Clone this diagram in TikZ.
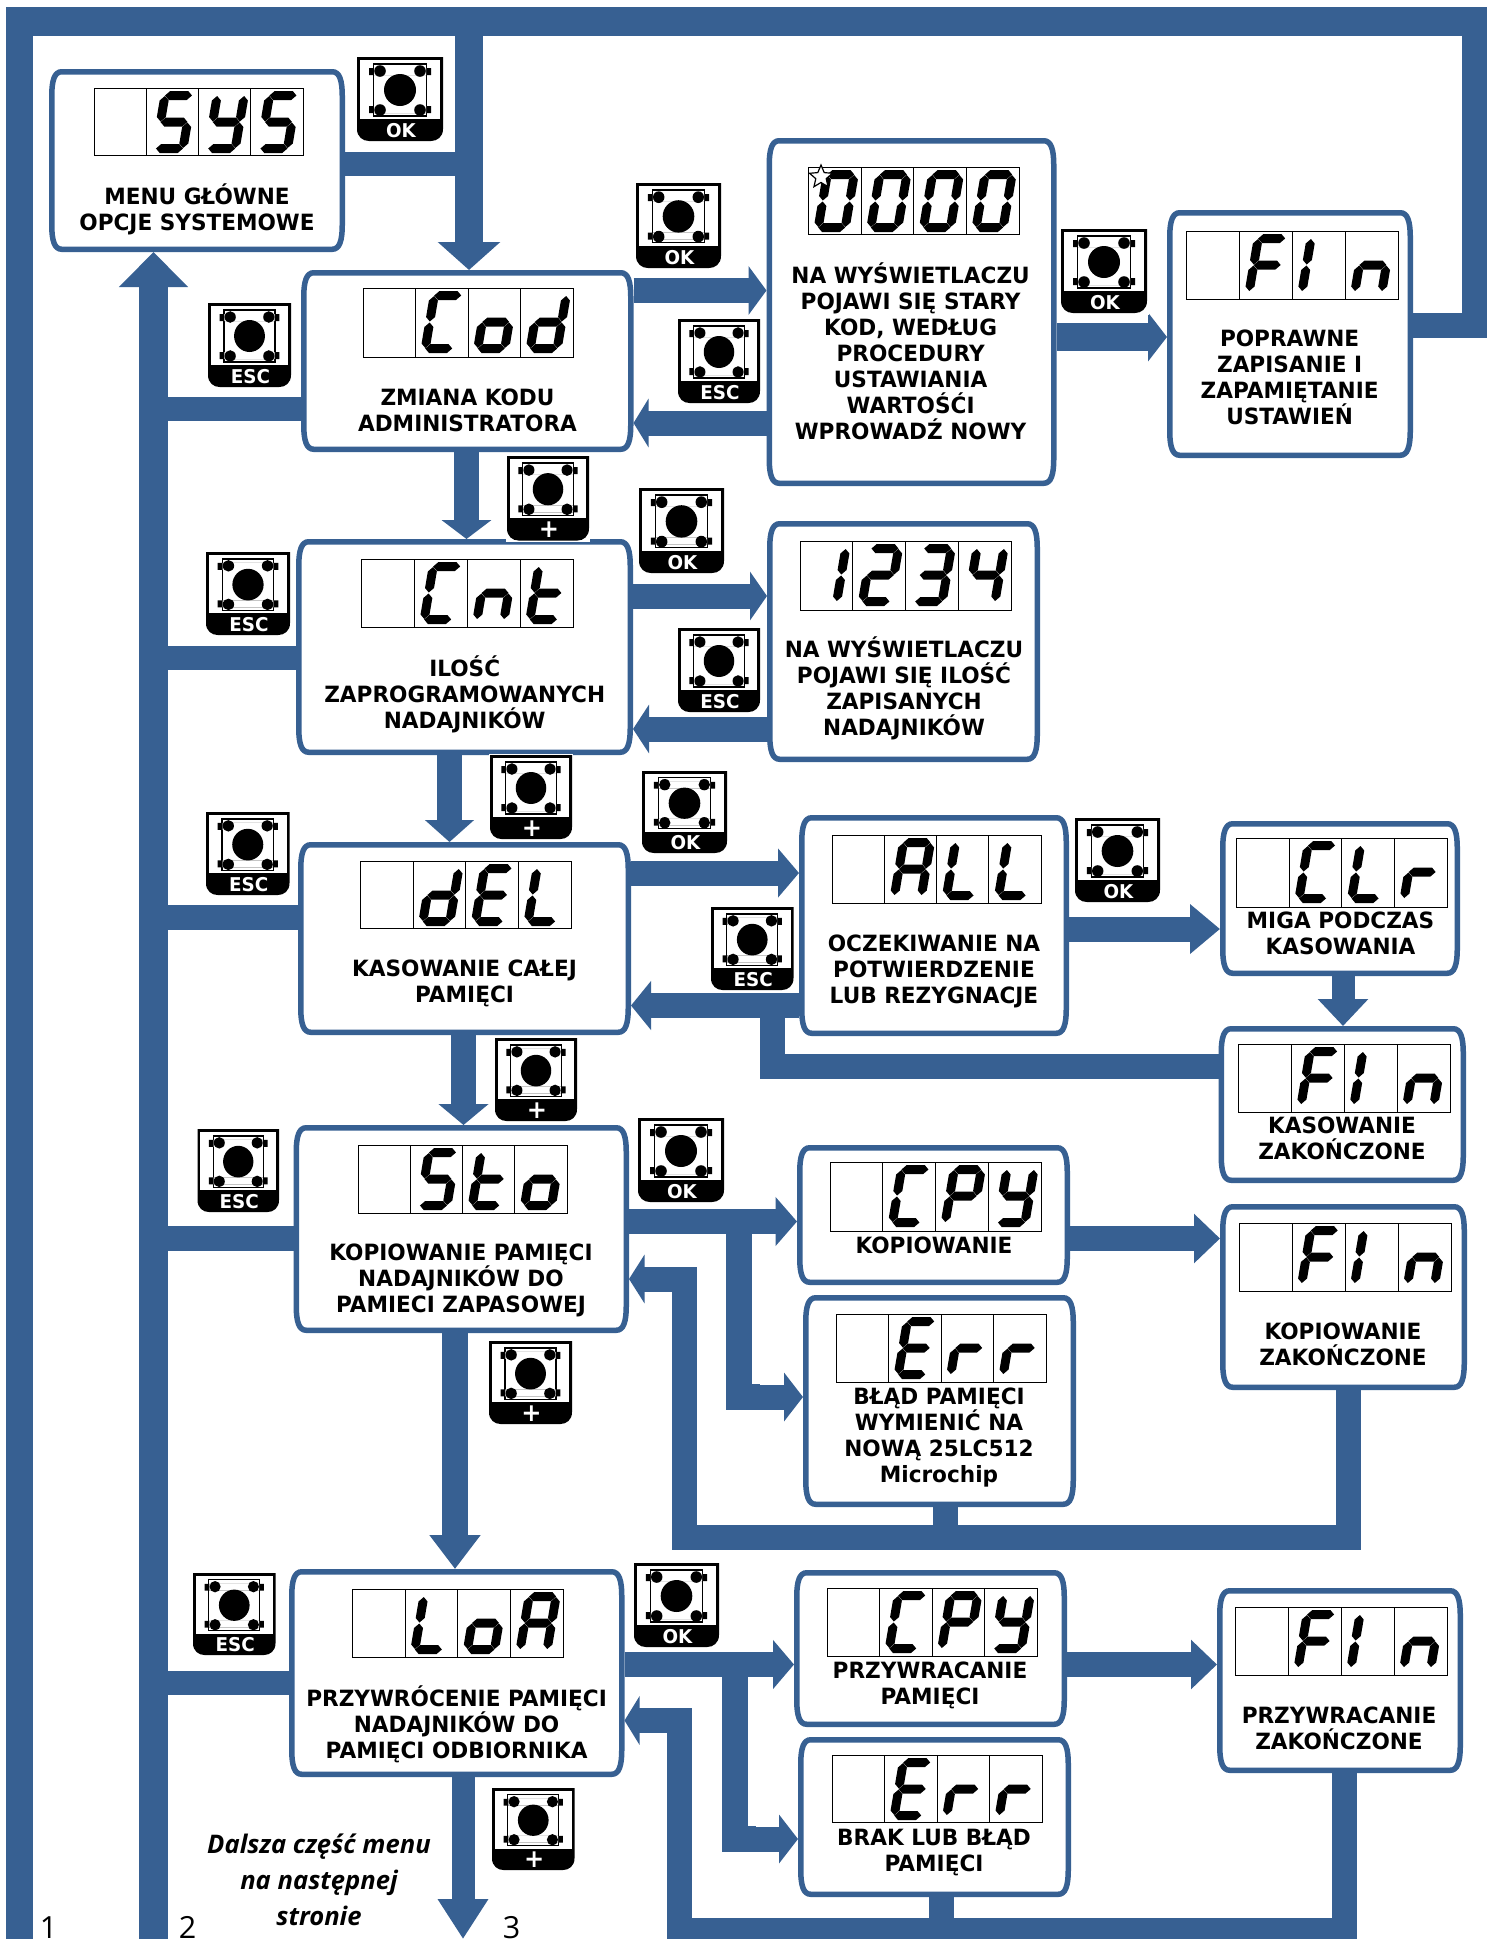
\documentclass[tikz,border=0pt]{standalone}
\usepackage{fontspec}
\setmainfont{DejaVu Sans}[FakeStretch=0.965]
\newfontfamily\noteFont{Open Sans}
\usetikzlibrary{arrows.meta,shapes.geometric,calc}
\definecolor{flowc}{HTML}{376092}
\tikzset{
  flow/.style={draw=flowc,line width=#1pt,line join=miter},
  arr/.style 2 args={-{Triangle[length=#1pt,width=#2pt]}},
  boxn/.style={inner sep=0pt,outer sep=0pt},
  boxline/.style={draw=flowc,fill=white,line width=5.5pt},
  cellline/.style={draw=black,line width=0.9pt},
  lbl/.style={inner sep=0pt,outer sep=0pt,align=center,text=black,font=\bfseries\fontsize{22.4}{26}\selectfont},
  btnl/.style={inner sep=0pt,text=white,font=\bfseries\fontsize{19}{20}\selectfont},
  btnp/.style={inner sep=0pt,text=white,font=\bfseries\fontsize{25}{26}\selectfont},
  note/.style={inner sep=0pt,align=center,font=\noteFont\bfseries\itshape\fontsize{25.6}{36}\selectfont},
  idx/.style={inner sep=0pt,anchor=base,font=\noteFont\fontsize{30.5}{31}\selectfont}
}
% seven segment parts
\newcommand\hseg[1]{\fill (4.5,#1) -- (9,#1-4.5) -- (27,#1-4.5) -- (31.5,#1) -- (27,#1+4.5) -- (9,#1+4.5) -- cycle;}
\newcommand\vseg[3]{\fill (#1,#2) -- (#1+4.5,#2+4.5) -- (#1+4.5,#3-4.5) -- (#1,#3) -- (#1-4.5,#3-4.5) -- (#1-4.5,#2+4.5) -- cycle;}
\newcommand\SgA{\hseg{4.5}}
\newcommand\SgG{\hseg{31}}
\newcommand\SgD{\hseg{57.5}}
\newcommand\SgF{\vseg{4.5}{5}{30.5}}
\newcommand\SgE{\vseg{4.5}{31.5}{57}}
\newcommand\SgB{\vseg{31.5}{5}{30.5}}
\newcommand\SgC{\vseg{31.5}{31.5}{57}}
\newcommand\GyS{\SgA\SgF\SgG\SgC\SgD}
\newcommand\GyY{\SgF\SgB\SgG\SgC\SgD}
\newcommand\GyCC{\SgA\SgF\SgE\SgD}
\newcommand\Gyo{\SgG\SgE\SgC\SgD}
\newcommand\Gyd{\SgB\SgC\SgD\SgE\SgG}
\newcommand\Gyn{\SgE\SgG\SgC}
\newcommand\Gyt{\SgF\SgE\SgG\SgD}
\newcommand\GyE{\SgA\SgF\SgG\SgE\SgD}
\newcommand\GyL{\SgF\SgE\SgD}
\newcommand\GyA{\SgA\SgB\SgC\SgE\SgF\SgG}
\newcommand\Gyr{\SgE\SgG}
\newcommand\GyP{\SgA\SgB\SgF\SgE\SgG}
\newcommand\GyF{\SgA\SgF\SgE\SgG}
\newcommand\GyI{\SgF\SgE}
\newcommand\Gyone{\SgB\SgC}
\newcommand\Gytwo{\SgA\SgB\SgG\SgE\SgD}
\newcommand\Gythree{\SgA\SgB\SgG\SgC\SgD}
\newcommand\Gyfour{\SgF\SgG\SgB\SgC}
\newcommand\Gyzero{\SgA\SgB\SgC\SgD\SgE\SgF}
\newcommand\digitAt[3]{\begin{scope}[shift={(#1,#2)},x={(1pt,0pt)},y={(-0.17pt,-1pt)}]#3\end{scope}}
% display: x0 y0 x1 y1 g1 g2 g3 g4
\newcommand\disp[8]{%
  \pgfmathsetmacro\cw{(#3-#1)/4}%
  \draw[cellline] (#1,#2) rectangle (#3,#4);
  \draw[cellline] (#1+\cw,#2) -- (#1+\cw,#4) (#1+2*\cw,#2) -- (#1+2*\cw,#4) (#1+3*\cw,#2) -- (#1+3*\cw,#4);
  \digitAt{#1+15}{#2+3}{#5}
  \digitAt{#1+\cw+15}{#2+3}{#6}
  \digitAt{#1+2*\cw+15}{#2+3}{#7}
  \digitAt{#1+3*\cw+15}{#2+3}{#8}
}
% box: name x0 y0 x1 y1 (outer edges)
\newcommand\bx[5]{%
  \pgfmathsetmacro\bw{#4-#2}\pgfmathsetmacro\bh{#5-#3}%
  \pgfmathsetmacro\bcx{(#2+#4)/2}\pgfmathsetmacro\bcy{(#3+#5)/2}%
  \pgfmathsetmacro\xa{#2+2.75}\pgfmathsetmacro\xb{#4-2.75}%
  \pgfmathsetmacro\ya{#3+2.75}\pgfmathsetmacro\yb{#5-2.75}%
  \path[boxline] (\xa+10,\ya) -- (\xb-10,\ya) .. controls (\xb-3,\ya) and (\xb,\ya+8) .. (\xb,\ya+24)
    -- (\xb,\yb-24) .. controls (\xb,\yb-8) and (\xb-3,\yb) .. (\xb-10,\yb)
    -- (\xa+10,\yb) .. controls (\xa+3,\yb) and (\xa,\yb-8) .. (\xa,\yb-24)
    -- (\xa,\ya+24) .. controls (\xa,\ya+8) and (\xa+3,\ya) .. (\xa+10,\ya) -- cycle;
  \node[boxn,minimum width=\bw pt,minimum height=\bh pt] (#1) at (\bcx,\bcy) {};
}
% button: name x0 y0 x1 y1 style label
\newcommand\btn[7]{%
  \pgfmathsetmacro\sx{(#4-#2)/86}\pgfmathsetmacro\sy{(#5-#3)/84}%
  \begin{scope}[shift={(#2,#3)},xscale=\sx,yscale=\sy]
    \fill[white] (-1.5,-1.5) rectangle (87.5,85.5);
    \fill[black] (0,0) -- (86,0) -- (86,72) .. controls (86,80) and (80,84) .. (74,84) -- (12,84) .. controls (6,84) and (0,80) .. (0,72) -- cycle;
    \fill[white] (3,3) rectangle (83,62);
    \draw[black,line width=1.2pt] (16.5,7) rectangle (69.5,59);
    \fill[black] (12,11) rectangle (74,18) (12,49) rectangle (74,56);
    \fill[white] (17,11) rectangle (69,18) (17,49) rectangle (69,56);
    \fill[black] (43,33) circle [radius=16];
    \fill[black] (23,14) circle [radius=5.8] (63,14) circle [radius=5.8] (23,53) circle [radius=5.8] (63,53) circle [radius=5.8];
    \node[#6] (#1) at (44,73.5) {#7};
  \end{scope}
}
\newcommand\txt[4]{\node[lbl] (#1) at (#2,#3) {#4};}
\begin{document}
\begin{tikzpicture}[x=1pt,y=-1pt]
\lineskiplimit=-100pt
\useasboundingbox (0,0) rectangle (1491,1939);
\fill[white] (0,0) rectangle (1491,1939);
% ----- boxes
\bx{sys}{49}{69}{345}{252}
\bx{cod}{301}{270}{633.5}{452}
\bx{cnt}{296}{539}{633}{755}
\bx{del}{298}{842}{631}{1035}
\bx{sto}{293.5}{1125}{629}{1333}
\bx{loa}{289}{1569}{624.5}{1777}
\bx{mid}{766.5}{138}{1056.5}{486}
\bx{finA}{1167}{210}{1413}{458}
\bx{qty}{767}{521}{1040}{762}
\bx{all}{799}{815}{1069}{1036}
\bx{clr}{1220}{821}{1460}{976}
\bx{finB}{1218.5}{1026}{1466}{1183}
\bx{cpy}{797}{1145}{1070}{1285}
\bx{err}{803}{1295}{1076}{1507}
\bx{finC}{1220}{1204}{1467}{1390}
\bx{cpyB}{794}{1570}{1067}{1727}
\bx{errB}{798}{1737}{1071}{1897}
\bx{finD}{1217}{1588}{1463}{1773}
% ----- displays
\disp{94}{88}{303}{155}{}{\GyS}{\GyY}{\GyS}
\disp{363}{288}{573}{357}{}{\GyCC}{\Gyo}{\Gyd}
\disp{361.6}{559}{573}{627}{}{\GyCC}{\Gyn}{\Gyt}
\disp{360.5}{861}{571}{928}{}{\Gyd}{\GyE}{\GyL}
\disp{358}{1145}{567}{1213}{}{\GyS}{\Gyt}{\Gyo}
\disp{352.5}{1589}{563}{1657}{}{\GyL}{\Gyo}{\GyA}
\disp{808.5}{167}{1019}{234}{\Gyzero}{\Gyzero}{\Gyzero}{\Gyzero}
\disp{1186.6}{231}{1398}{299}{}{\GyF}{\GyI}{\Gyn}
\disp{800}{541}{1011}{610}{\Gyone}{\Gytwo}{\Gythree}{\Gyfour}
\disp{832.6}{835}{1041}{903}{}{\GyA}{\GyL}{\GyL}
\disp{1236.7}{838}{1447}{907}{}{\GyCC}{\GyL}{\Gyr}
\disp{1238.5}{1044}{1450}{1112}{}{\GyF}{\GyI}{\Gyn}
\disp{830}{1162}{1041}{1231}{}{\GyCC}{\GyP}{\GyY}
\disp{836}{1314}{1046}{1382}{}{\GyE}{\Gyr}{\Gyr}
\disp{1239}{1223}{1451}{1291}{}{\GyF}{\GyI}{\Gyn}
\disp{827}{1588}{1037}{1656}{}{\GyCC}{\GyP}{\GyY}
\disp{832}{1755}{1042}{1822}{}{\GyE}{\Gyr}{\Gyr}
\disp{1235.5}{1607}{1447}{1675}{}{\GyF}{\GyI}{\Gyn}
\node[star,star points=5,star point ratio=2.2,draw=black,fill=white,line width=1.2pt,minimum size=24pt,inner sep=0pt] (starmark) at (821,177) {};
% ----- frame and main buses
\coordinate (busA) at (19.5,1945);
\coordinate (cornerTR) at (1474.5,21.5);
\draw[flow=27] (busA) -- (19.5,7);
\draw[flow=29] (6,21.5) -- (1487,21.5);
\draw[flow=25] (cornerTR) -- (1474.5,337);
\draw[flow=25] (finA.east|-0,325) -- (1487,325);
\draw[flow=28,arr={28}{61}] (469,36) -- (469,0|-cod.north);
\draw[flow=24] (sys.east|-0,164) -- (469,164);
\coordinate (busB) at (153.5,1945);
\draw[flow=29,arr={35}{67}] (busB) -- (153.5,0|-sys.south);
\draw[flow=24] (cod.west|-0,409) -- (153.5,409);
\draw[flow=24.5] (cnt.west|-0,658) -- (153.5,658);
\draw[flow=25] (del.west|-0,917.5) -- (153.5,917.5);
\draw[flow=25] (sto.west|-0,1238.5) -- (153.5,1238.5);
\draw[flow=24] (loa.west|-0,1683) -- (153.5,1683);
% ----- row connectors
\draw[flow=25,arr={18}{48}] (cod.east|-0,290.5) -- (mid.west|-0,290.5);
\draw[flow=25,arr={15}{48}] (mid.west|-0,423) -- (cod.east|-0,423);
\draw[flow=28,arr={19}{48}] (mid.east|-0,337) -- (finA.west|-0,337);
\draw[flow=25,arr={19}{49}] (466.5,0|-cod.south) -- (466.5,0|-cnt.north);
\draw[flow=25,arr={17}{48}] (cnt.east|-0,596) -- (qty.west|-0,596);
\draw[flow=25,arr={16}{48}] (qty.west|-0,729) -- (cnt.east|-0,729);
\draw[flow=25,arr={22}{48}] (449.5,0|-cnt.south) -- (449.5,0|-del.north);
\draw[flow=25,arr={21}{48}] (del.east|-0,873) -- (all.west|-0,873);
\draw[flow=25,arr={20}{48}] (all.west|-0,1005.5) -- (del.east|-0,1005.5);
\draw[flow=25] (finB.west|-0,1066.5) -- (772,1066.5) -- (772,1005.5);
\draw[flow=25,arr={30}{48}] (all.east|-0,929) -- (clr.west|-0,929);
\draw[flow=23,arr={27}{49}] (1343,0|-clr.south) -- (1343,0|-finB.north);
\draw[flow=25,arr={21}{49}] (463.5,0|-del.south) -- (463.5,0|-sto.north);
\draw[flow=25,arr={21.5}{48}] (sto.east|-0,1221.5) -- (cpy.west|-0,1221.5);
\coordinate (forkA) at (739,1221.5);
\draw[flow=26] (forkA) -- (739,1397) -- (760,1397);
\draw[flow=25,arr={19}{48}] (739,1397) -- (err.west|-0,1397);
\draw[flow=25,arr={15.5}{48}] (1348.5,0|-finC.south) -- (1348.5,1537.5) -- (684,1537.5) -- (684,1279) -- (sto.east|-0,1279);
\draw[flow=25] (945.5,0|-err.south) -- (945.5,1537.5);
\draw[flow=25,arr={26}{48}] (cpy.east|-0,1238.5) -- (finC.west|-0,1238.5);
\draw[flow=26,arr={34}{49}] (455,0|-sto.south) -- (455,0|-loa.north);
\draw[flow=25,arr={21}{48}] (loa.east|-0,1664.5) -- (cpyB.west|-0,1664.5);
\coordinate (forkB) at (735,1664.5);
\draw[flow=26] (forkB) -- (735,1839) -- (756,1839);
\draw[flow=25,arr={19}{48}] (735,1839) -- (errB.west|-0,1839);
\draw[flow=25,arr={15}{48}] (1344.5,0|-finD.south) -- (1344.5,1930) -- (679.5,1930) -- (679.5,1720.5) -- (loa.east|-0,1720.5);
\draw[flow=25] (941,0|-errB.south) -- (941,1930);
\draw[flow=25,arr={26}{48}] (cpyB.east|-0,1664.5) -- (finD.west|-0,1664.5);
\coordinate (pageEnd) at (463,1939);
\draw[flow=23,arr={40}{48}] (463,0|-loa.south) -- (pageEnd);
% ----- buttons
\btn{bA}{357}{57}{443}{141}{btnl}{OK}
\btn{bB}{208}{303}{291}{387}{btnl}{ESC}
\btn{bC}{636}{183}{721}{268}{btnl}{OK}
\btn{bD}{678}{319}{760}{403}{btnl}{ESC}
\btn{bE}{507}{456}{589}{540.5}{btnp}{+}
\btn{bF}{639}{488}{724}{573}{btnl}{OK}
\btn{bG}{206}{552}{290}{635}{btnl}{ESC}
\btn{bH}{678}{628}{760}{712}{btnl}{ESC}
\btn{bI}{1061}{229}{1147}{313}{btnl}{OK}
\btn{bJ}{490}{755}{572}{839}{btnp}{+}
\btn{bK}{206}{812}{289.5}{895}{btnl}{ESC}
\btn{bL}{642}{771}{727}{853}{btnl}{OK}
\btn{bM}{711}{907}{793.5}{990}{btnl}{ESC}
\btn{bN}{1075}{818}{1160}{902}{btnl}{OK}
\btn{bO}{495}{1038}{577}{1121}{btnp}{+}
\btn{bP}{197.5}{1129}{279}{1212}{btnl}{ESC}
\btn{bQ}{638}{1118}{724}{1202}{btnl}{OK}
\btn{bR}{489}{1341}{572}{1424}{btnp}{+}
\btn{bS}{193}{1573}{275.5}{1655}{btnl}{ESC}
\btn{bT}{634}{1563}{719}{1647}{btnl}{OK}
\btn{bU}{492}{1788}{574.5}{1870}{btnp}{+}
% ----- texts
\txt{tSys}{197}{211}{\strut MENU GŁÓWNE\\\strut OPCJE SYSTEMOWE}
\txt{tCod}{467.5}{413}{\strut ZMIANA KODU\\\strut ADMINISTRATORA}
\txt{tCnt}{464.7}{695.5}{\strut ILOŚĆ\\\strut ZAPROGRAMOWANYCH\\\strut NADAJNIKÓW}
\txt{tDel}{464.5}{984.5}{\strut KASOWANIE CAŁEJ\\\strut PAMIĘCI}
\txt{tSto}{461}{1281.5}{\strut KOPIOWANIE PAMIĘCI\\\strut NADAJNIKÓW DO\\\strut PAMIECI ZAPASOWEJ}
\txt{tLoa}{456.6}{1726}{\strut PRZYWRÓCENIE PAMIĘCI\\\strut NADAJNIKÓW DO\\\strut PAMIĘCI ODBIORNIKA}
\txt{tMid}{910.6}{355}{\strut NA WYŚWIETLACZU\\\strut POJAWI SIĘ STARY\\\strut KOD, WEDŁUG\\\strut PROCEDURY\\\strut USTAWIANIA\\\strut WARTOŚĆI\\\strut WPROWADŹ NOWY}
\txt{tFinA}{1289.6}{380}{\strut POPRAWNE\\\strut ZAPISANIE I\\\strut ZAPAMIĘTANIE\\\strut USTAWIEŃ}
\txt{tQty}{904}{690}{\strut NA WYŚWIETLACZU\\\strut POJAWI SIĘ ILOŚĆ\\\strut ZAPISANYCH\\\strut NADAJNIKÓW}
\txt{tAll}{934}{972}{\strut OCZEKIWANIE NA\\\strut POTWIERDZENIE\\\strut LUB REZYGNACJE}
\txt{tClr}{1340.5}{936}{\strut MIGA PODCZAS\\\strut KASOWANIA}
\txt{tFinB}{1342}{1141.5}{\strut KASOWANIE\\\strut ZAKOŃCZONE}
\txt{tCpy}{934}{1248}{\strut KOPIOWANIE}
\txt{tErr}{939}{1438}{\strut BŁĄD PAMIĘCI\\\strut WYMIENIĆ NA\\\strut NOWĄ 25LC512\\\strut Microchip}
\txt{tFinC}{1343}{1347}{\strut KOPIOWANIE\\\strut ZAKOŃCZONE}
\txt{tCpyB}{930}{1686}{\strut PRZYWRACANIE\\\strut PAMIĘCI}
\txt{tErrB}{934}{1853.5}{\strut BRAK LUB BŁĄD\\\strut PAMIĘCI}
\txt{tFinD}{1339}{1731}{\strut PRZYWRACANIE\\\strut ZAKOŃCZONE}
\node[note] (tNote) at (319,1882) {\strut Dalsza część menu\\\strut na następnej\\\strut stronie};
\node[idx] (nA) at (48.5,1938.5) {1};
\node[idx] (nB) at (187.5,1938.5) {2};
\node[idx] (nC) at (511.5,1938.5) {3};
\end{tikzpicture}
\end{document}
